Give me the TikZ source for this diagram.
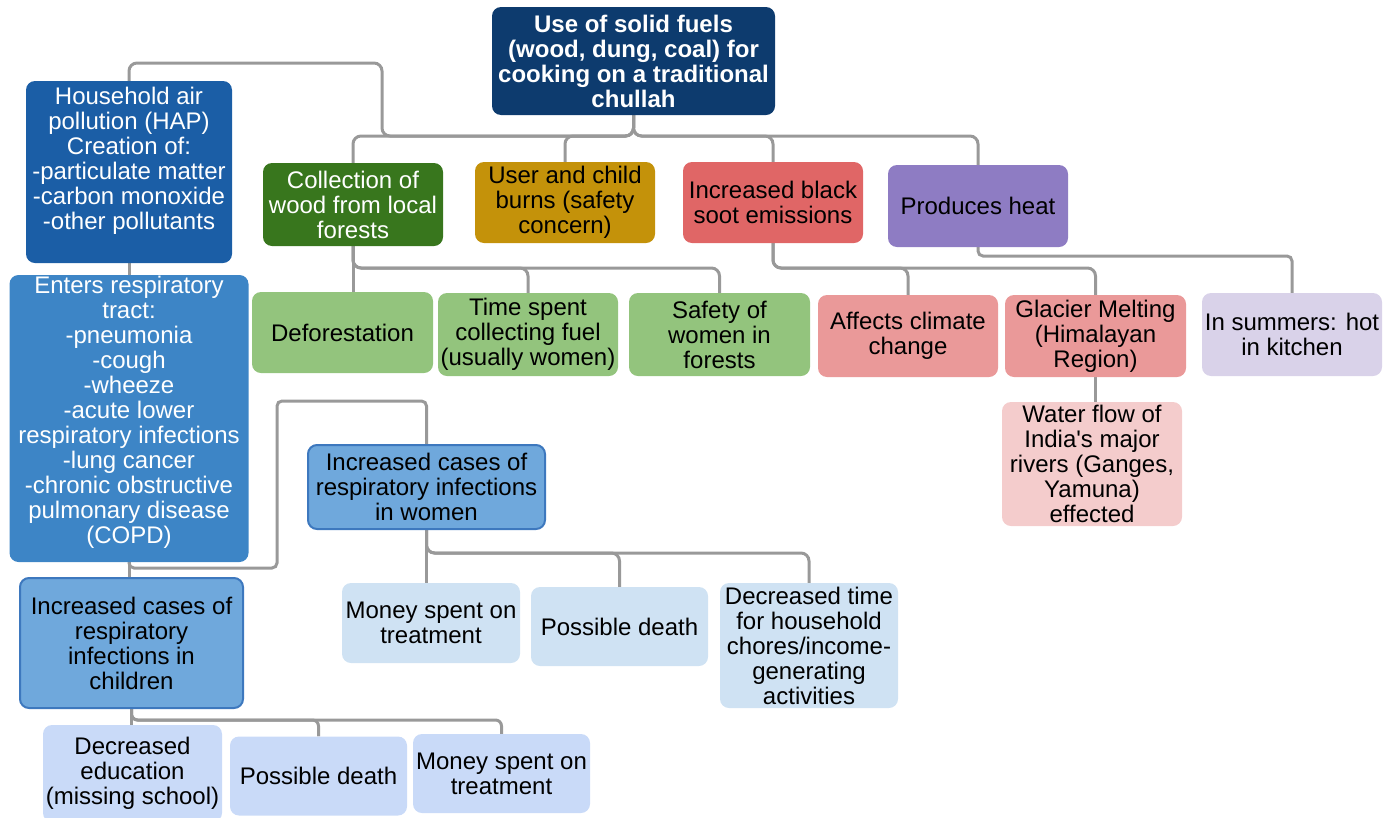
\documentclass[tikz,border=0pt]{standalone}
\usepackage{fontspec}
\setmainfont{Liberation Sans}
\usetikzlibrary{backgrounds}
\definecolor{cRoot}{HTML}{0D3B6E}
\definecolor{cHap}{HTML}{1B5EA6}
\definecolor{cEnt}{HTML}{3D85C6}
\definecolor{cMid}{HTML}{6FA8DC}
\definecolor{cMidB}{HTML}{3D78BE}
\definecolor{cColl}{HTML}{38761D}
\definecolor{cUser}{HTML}{C4920A}
\definecolor{cSoot}{HTML}{E06666}
\definecolor{cHeat}{HTML}{8E7CC3}
\definecolor{cGreen}{HTML}{93C47D}
\definecolor{cPink}{HTML}{EA9999}
\definecolor{cLPink}{HTML}{F4CCCC}
\definecolor{cLav}{HTML}{D9D2E9}
\definecolor{cLBlue}{HTML}{CFE2F3}
\definecolor{cLBlue2}{HTML}{C9DAF8}
\definecolor{cLine}{HTML}{999999}
\begin{document}
\begin{tikzpicture}[x=1pt,y=-1pt,
  box/.style={rectangle, rounded corners=9pt, inner sep=0pt, align=center,
    font=\fontsize{24}{25}\selectfont, text=black},
  txt/.style={inner sep=0pt, align=center, font=\fontsize{24}{25}\selectfont, text=white},
  conn/.style={draw=cLine, line width=3pt, rounded corners=8pt},
  mid/.style={box, fill=cMid, draw=cMidB, line width=2pt}]
\path[use as bounding box] (0,0) rectangle (1384,817);
\clip (0,0) rectangle (1384,817);

% level coordinates
\coordinate (L0) at (0,136);
\coordinate (L1) at (0,268);
\coordinate (L2) at (0,256);
\coordinate (L3) at (0,553);
\coordinate (L4) at (0,568);
\coordinate (L5) at (0,720);
\coordinate (hb) at (382,63);
\coordinate (wb) at (277,401);

% nodes
\node[box, fill=cRoot, text=white, font=\fontsize{24}{25}\selectfont\bfseries,
  minimum width=283, minimum height=108] (root) at (633.5,61)
  {Use of solid fuels\\(wood, dung, coal) for\\cooking on a traditional\\chullah};

\node[box, fill=cHap, minimum width=206, minimum height=182] (hap) at (129,172) {};
\node[txt] (hapt) at (129,161) {Household air\\pollution (HAP)\\Creation of:\\-particulate matter\\-carbon monoxide\\-other pollutants};

\node[box, fill=cEnt, minimum width=239, minimum height=287] (enters) at (129,418.5) {};
\node[txt] (enterst) at (129,412) {Enters respiratory\\tract:\\-pneumonia\\-cough\\-wheeze\\-acute lower\\respiratory infections\\-lung cancer\\-chronic obstructive\\pulmonary disease\\(COPD)};

\node[box, fill=cColl, text=white, minimum width=180, minimum height=83] (coll) at (353,204.5) {Collection of\\wood from local\\forests};
\node[box, fill=cUser, minimum width=180, minimum height=81] (user) at (565,202.5) {User and child\\burns (safety\\concern)};
\node[box, fill=cSoot, minimum width=180, minimum height=81] (soot) at (773,202.5) {Increased black\\soot emissions};
\node[box, fill=cHeat, minimum width=180, minimum height=82] (heat) at (978,206) {Produces heat};

\node[box, fill=cGreen, minimum width=181, minimum height=81] (defo) at (342.5,332.5) {Deforestation};
\node[box, fill=cGreen, minimum width=180, minimum height=83] (time) at (528,334.5) {Time spent\\collecting fuel\\(usually women)};
\node[box, fill=cGreen, minimum width=181, minimum height=83] (safety) at (719.5,334.5) {Safety of\\women in\\forests};
\node[box, fill=cPink, minimum width=180, minimum height=82] (affects) at (908,336) {Affects climate\\change};
\node[box, fill=cPink, minimum width=181, minimum height=82] (glacier) at (1095.5,336) {Glacier Melting\\(Himalayan\\Region)};
\node[box, fill=cLav, minimum width=180, minimum height=83] (summers) at (1292,334.5) {In summers: hot\\in kitchen};
\node[box, fill=cLPink, minimum width=180, minimum height=124] (water) at (1092,464) {Water flow of\\India\textquotesingle s major\\rivers (Ganges,\\Yamuna)\\effected};

\node[mid, minimum width=237, minimum height=84] (women) at (426.5,487) {Increased cases of\\respiratory infections\\in women};
\node[box, fill=cLBlue, minimum width=178, minimum height=80] (wmoney) at (431,623) {Money spent on\\treatment};
\node[box, fill=cLBlue, minimum width=177, minimum height=79] (wdeath) at (619.5,626.5) {Possible death};
\node[box, fill=cLBlue, minimum width=178, minimum height=125] (wtime) at (809,645.5) {Decreased time\\for household\\chores/income-\\generating\\activities};

\node[mid, minimum width=223, minimum height=130] (children) at (131.5,643) {Increased cases of\\respiratory\\infections in\\children};
\node[box, fill=cLBlue2, minimum width=179, minimum height=97] (cedu) at (132.5,773.5) {Decreased\\education\\(missing school)};
\node[box, fill=cLBlue2, minimum width=177, minimum height=79] (cdeath) at (318.5,776) {Possible death};
\node[box, fill=cLBlue2, minimum width=177, minimum height=79] (cmoney) at (501.5,773.5) {Money spent on\\treatment};

% connectors
\begin{scope}[on background layer]
\draw[conn] (root.south) -- (root.south |- L0) -| (hb) -| (hap.north);
\draw[conn] (root.south) -- (root.south |- L0) -| (coll.north);
\draw[conn] (root.south) -- (root.south |- L0) -| (user.north);
\draw[conn] (root.south) -- (root.south |- L0) -| (soot.north);
\draw[conn] (root.south) -- (root.south |- L0) -| (heat.north);

\draw[conn] (hap.south) -- (enters.north);
\draw[conn] (enters.south) -- (enters.south |- children.north);
\draw[conn, rounded corners=5pt] (enters.south) -- (enters.south |- L4) -| (wb) -| (women.north);

\draw[conn] (coll.south) -- (coll.south |- defo.north);
\draw[conn] (coll.south) -- (coll.south |- L1) -| (time.north);
\draw[conn] (coll.south) -- (coll.south |- L1) -| (safety.north);

\draw[conn] (soot.south) -- (soot.south |- L1) -| (affects.north);
\draw[conn] (soot.south) -- (soot.south |- L1) -| (glacier.north);

\draw[conn, rounded corners=5pt] (heat.south) -- (heat.south |- L2) -| (summers.north);
\draw[conn] (glacier.south) -- (glacier.south |- water.north);

\draw[conn] (women.south) -- (women.south |- wmoney.north);
\draw[conn] (women.south) -- (women.south |- L3) -| (wdeath.north);
\draw[conn] (women.south) -- (women.south |- L3) -| (wtime.north);

\draw[conn] (children.south) -- (children.south |- cedu.north);
\draw[conn, rounded corners=6pt] (children.south) -- (children.south |- L5) -| (cdeath.north);
\draw[conn, rounded corners=6pt] (children.south) -- (children.south |- L5) -| (cmoney.north);
\end{scope}
\end{tikzpicture}
\end{document}
